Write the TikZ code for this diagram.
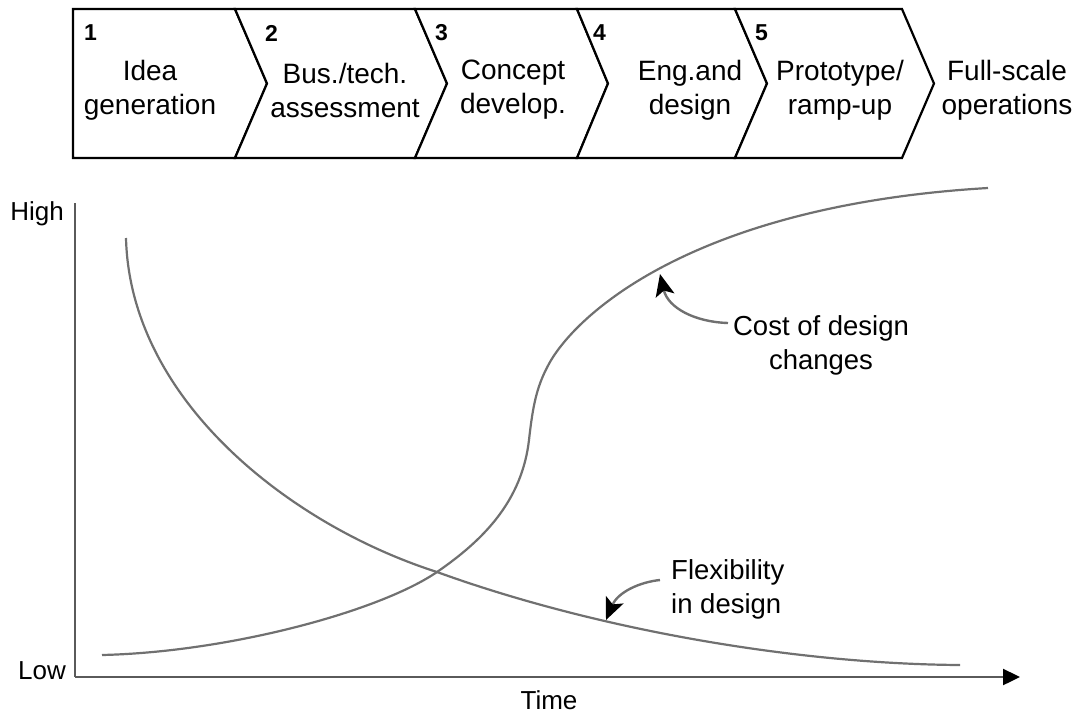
\documentclass[tikz,border=0pt]{standalone}
\usepackage{fontspec}
\setmainfont{Liberation Sans}
\usetikzlibrary{arrows.meta}
\definecolor{curvegray}{HTML}{707070}
\definecolor{axisgray}{HTML}{5A5A5A}
\tikzset{
  chev/.style={draw=black, line width=2.2pt, line join=miter, fill=white},
  stagetxt/.style={align=center, font=\fontsize{28}{34}\selectfont, inner sep=0pt},
  numtxt/.style={font=\bfseries\fontsize{23}{23}\selectfont, inner sep=0pt, anchor=west},
  lbl/.style={font=\fontsize{26}{33}\selectfont, inner sep=0pt},
  clbl/.style={font=\fontsize{27.5}{34}\selectfont, inner sep=0pt},
  curve/.style={draw=curvegray, line width=2.2pt},
  axis/.style={draw=axisgray, line width=2.4pt},
  callout/.style={draw=curvegray, line width=2.4pt, arrows={-{Stealth[length=22pt,width=19pt,inset=5pt,black]}}}
}
\begin{document}
\begin{tikzpicture}[x=1pt,y=-1pt]
\useasboundingbox (0,0) rectangle (1077,713);
% chevrons
\draw[chev] (73,9) -- (235,9) -- (267,83.5) -- (235,158) -- (73,158) -- cycle;
\draw[chev] (235,9) -- (415,9) -- (447,83.5) -- (415,158) -- (235,158) -- (267,83.5) -- cycle;
\draw[chev] (415,9) -- (577,9) -- (608,83.5) -- (577,158) -- (415,158) -- (447,83.5) -- cycle;
\draw[chev] (577,9) -- (735,9) -- (767,83.5) -- (735,158) -- (577,158) -- (608,83.5) -- cycle;
\draw[chev] (735,9) -- (902,9) -- (934,83.5) -- (902,158) -- (735,158) -- (767,83.5) -- cycle;
% numbers
\node[numtxt] (n1) at (84,33) {1};
\node[numtxt] (n2) at (265,33) {2};
\node[numtxt] (n3) at (435,33) {3};
\node[numtxt] (n4) at (593,33) {4};
\node[numtxt] (n5) at (755,33) {5};
% stage texts
\node[stagetxt] (s1) at (150,90) {Idea\\generation};
\node[stagetxt] (s2) at (345,90) {Bus./tech.\\assessment};
\node[stagetxt] (s3) at (513,90) {Concept\\develop.};
\node[stagetxt] (s4) at (690,90) {Eng.and\\design};
\node[stagetxt] (s5) at (840,90) {Prototype/\\ramp-up};
\node[stagetxt] (s6) at (1007,90) {Full-scale\\operations};
% axes
\coordinate (top) at (75,203);
\coordinate (origin) at (75,677);
\coordinate (xend) at (1020,677);
\draw[axis] (top) -- (origin);
\draw[axis, -{Triangle[length=17pt,width=16pt,black]}] (origin) -- (xend);
\node[lbl, anchor=east] (high) at (64,214) {High};
\node[lbl, anchor=east] (low) at (66,671) {Low};
\node[lbl] (time) at (549,700) {Time};
% curves
\draw[curve] (126,238) .. controls (130,400) and (290,525) .. (437,572)
  .. controls (600,631) and (800,664) .. (960,665);
\draw[curve] (102,655) .. controls (230,652) and (380,611) .. (437,572)
  .. controls (485,539) and (522,500) .. (529,440)
  .. controls (533,404) and (537,385) .. (550,362)
  .. controls (580,310) and (700,205) .. (988,188);
% labels
\node[clbl, align=center] (cost) at (821,345) {Cost of design\\changes};
\node[clbl, align=left, anchor=west] (flex) at (671,589) {Flexibility\\in design};
\coordinate (costtip) at (660,274);
\coordinate (costtail) at (728,323);
\coordinate (flextip) at (606,620);
\coordinate (flextail) at (660,580);
\draw[callout] (costtail) .. controls (695,322) and (668,308) .. (costtip);
\draw[callout] (flextail) .. controls (640,582) and (618,592) .. (flextip);
\end{tikzpicture}
\end{document}
